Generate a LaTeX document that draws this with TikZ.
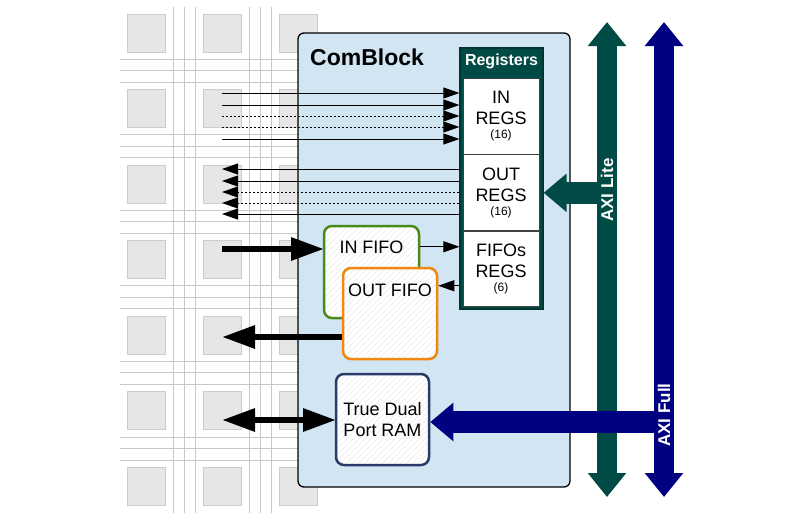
\documentclass[tikz,border=0pt]{standalone}
\usepackage{fontspec}
\setmainfont{Liberation Sans}
\usetikzlibrary{arrows.meta, patterns.meta, positioning, calc}

\definecolor{blockblue}{HTML}{D1E5F3}
\definecolor{regteal}{HTML}{004B45}
\definecolor{axinavy}{HTML}{000080}
\definecolor{fifogreen}{HTML}{4A8A1C}
\definecolor{fifoorange}{HTML}{F2870F}
\definecolor{ramnavy}{HTML}{2B3A68}
\definecolor{padgray}{HTML}{E6E6E6}
\definecolor{wiregray}{HTML}{C8C8C8}

\tikzset{
  pad/.style={fill=padgray, draw=black!20, line width=1pt, minimum size=38pt, inner sep=0pt},
  wire/.style={draw=wiregray, line width=1pt},
  memblock/.style={preaction={fill=white}, pattern={Lines[angle=45,distance=4pt,line width=0.6pt]},
    pattern color=black!11, rounded corners=8pt, line width=2.5pt, inner sep=0pt,
    minimum width=94pt, minimum height=92pt},
  boxtext/.style={inner sep=0pt, align=center, font=\fontsize{18}{21}\selectfont},
  regframe/.style={fill=regteal, draw=regteal!70!black, line width=1.2pt, inner sep=0pt},
  regcell/.style={draw=black!75, fill=white, line width=0.8pt, inner sep=0pt,
    minimum width=76pt, minimum height=76pt, align=center, font=\fontsize{18}{21}\selectfont},
  sigline/.style={line width=0.9pt, -{Triangle[length=16pt,width=11pt]}},
  sigdot/.style={sigline, dash pattern=on 2pt off 2pt},
  bigarrow/.style={line width=6pt, -{Triangle[length=33pt,width=22pt]}},
  bigboth/.style={line width=6pt, {Triangle[length=33pt,width=22pt]}-{Triangle[length=33pt,width=22pt]}},
  axibus/.style={line width=20pt, {Triangle[length=24pt,width=37pt]}-{Triangle[length=24pt,width=37pt]}},
  axibranch/.style={line width=22pt, -{Triangle[length=23pt,width=37pt]}},
  axilabel/.style={text=white, rotate=90, inner sep=0pt, font=\bfseries\fontsize{17}{20}\selectfont},
}

\newcommand{\regcount}[1]{\\[-6.5pt]{\fontsize{12}{14}\selectfont #1}}

\begin{document}
\begin{tikzpicture}[x=1pt, y=-1pt]
  \useasboundingbox (0,0) rectangle (803,520);
  %\draw [step=50pt, red!30] (0,0) grid (803,520);

  % fpga fabric behind the block
  \foreach \k in {0,1} {
    \foreach \d in {0,11,22}
      \draw[wire] ({173+76*\k+\d},7) -- ({173+76*\k+\d},513);
  }
  \foreach \k in {0,...,5} {
    \foreach \d in {0,11.5,23}
      \draw[wire] (120,{59+75.6*\k+\d}) -- (298,{59+75.6*\k+\d});
  }
  \foreach \c in {0,1,2}
    \foreach \r in {0,...,6}
      \node[pad] (pad-\c-\r) at ({146+76*\c},{33+75.5*\r}) {};

  % the block
  \node (comblock) [draw, fill=blockblue, rounded corners=6pt, line width=1.3pt,
    minimum width=272pt, minimum height=454pt, inner sep=0pt] at (434,260) {};
  \node (title) [anchor=base west, inner sep=0pt, font=\bfseries\fontsize{23}{27}\selectfont]
    at (310,65.5) {ComBlock};

  % registers
  \node (regs) [regframe, minimum width=83pt, minimum height=261pt] at (501.5,178.5) {};
  \node (regs title) [below=6.5pt of regs.north, inner sep=0pt, text=white,
    font=\bfseries\fontsize{16}{19}\selectfont] {Registers};
  \node (inregs) [regcell] at (501,116) {IN\\REGS\regcount{(16)}};
  \node (outregs) [regcell, below=0pt of inregs] {OUT\\REGS\regcount{(16)}};
  \node (fiforegs) [regcell, below=0pt of outregs, minimum height=75pt] {FIFOs\\REGS\regcount{(6)}};

  % big data paths
  \coordinate (pin) at (222,249);
  \coordinate (pout) at (222,337);
  \coordinate (pram) at (222,420);
  \draw[bigarrow] (pin) -- (324,249);
  \draw[bigarrow] (343,337) -- (pout);
  \draw[bigboth] (pram) -- (336,420);

  % fifos and ram
  \node (infifo) [memblock, draw=fifogreen, minimum width=95pt] at (371.5,272) {};
  \node (infifo text) [boxtext, below=16pt of infifo.north] {IN FIFO};
  \node (outfifo) [memblock, draw=fifoorange, minimum height=91pt] at (390,313.5) {};
  \node (outfifo text) [boxtext, below=17pt of outfifo.north] {OUT FIFO};
  \node (ram) [memblock, boxtext, draw=ramnavy, minimum width=93pt, minimum height=91pt]
    at (382.5,419.5) {True Dual\\Port RAM};

  % register signals
  \foreach \y/\st [count=\i] in {93/sigline,105/sigline,116/sigdot,127/sigdot,139/sigline} {
    \coordinate (in\i) at (222,\y);
    \draw[\st] (in\i) -- (in\i -| regs.west);
  }
  \foreach \y/\st [count=\i] in {169/sigline,181/sigline,192/sigdot,203/sigdot,214/sigline} {
    \coordinate (out\i) at (222,\y);
    \draw[\st] (out\i -| regs.west) -- (out\i);
  }
  \coordinate (fifo in) at ($(infifo.north east)+(0,22)$);
  \coordinate (fifo out) at ($(outfifo.north east)+(0,19)$);
  \draw[sigline] (fifo in) -- (fifo in -| regs.west);
  \draw[sigline] (fifo out -| regs.west) -- (fifo out);

  % axi buses
  \coordinate (lite top) at (607,22);
  \coordinate (lite bot) at (607,497);
  \coordinate (full top) at (664,22);
  \coordinate (full bot) at (664,497);
  \draw[axibus, regteal] (lite top) -- (lite bot);
  \draw[axibranch, regteal] (outregs -| lite top) -- (outregs -| regs.east);
  \draw[axibus, axinavy] (full top) -- (full bot);
  \draw[axibranch, axinavy] (664,422) -- (ram.east |- 0,422);
  \node (lite label) [axilabel] at (607,190) {AXI Lite};
  \node (full label) [axilabel] at (664,415) {AXI Full};
\end{tikzpicture}
\end{document}
